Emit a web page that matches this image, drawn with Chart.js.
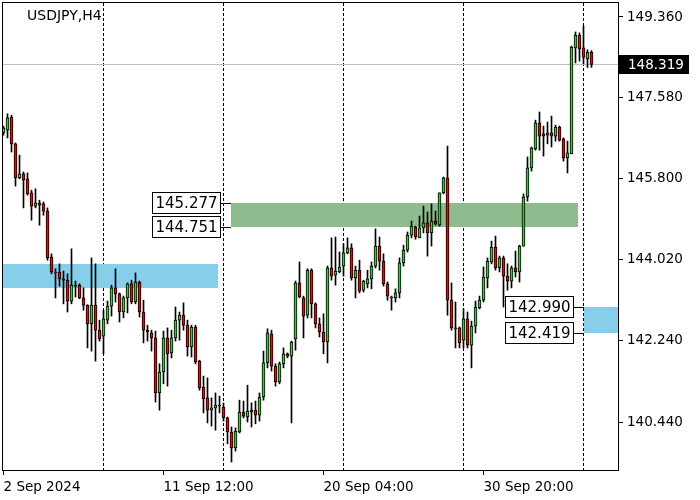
<!DOCTYPE html>
<html><head><meta charset="utf-8">
<script src="https://cdn.jsdelivr.net/npm/chart.js@4.4.1/dist/chart.umd.min.js"></script>
<style>html,body{margin:0;padding:0;background:#fff;}canvas{display:block}</style>
</head><body>
<canvas id="c" width="700" height="500"></canvas>
<script>
const symbolTitle = "USDJPY,H4";
const opens = [146.81,146.87,147.16,146.57,145.82,145.91,145.80,145.49,145.20,145.27,
145.25,145.09,144.08,143.75,143.75,143.60,143.57,143.11,143.46,143.46,
143.18,143.02,142.61,143.02,142.47,142.34,142.69,143.00,143.40,143.27,
142.87,143.18,143.49,143.09,143.53,142.87,142.47,142.41,142.30,141.09,
141.55,142.30,141.97,142.30,142.69,142.80,142.58,142.10,142.54,141.79,
141.22,140.98,140.71,140.76,140.82,140.78,140.54,140.23,139.88,140.23,
140.67,140.56,140.71,140.71,140.60,141.00,141.75,142.39,141.68,141.33,
141.73,141.95,141.90,142.28,143.51,143.18,142.80,143.79,143.05,142.61,
142.43,142.21,143.84,143.68,143.75,143.88,144.17,144.28,143.62,143.79,
143.35,143.49,143.60,143.88,144.32,143.99,143.49,143.20,143.18,143.29,
143.95,144.23,144.56,144.74,144.50,144.72,144.83,144.61,144.87,144.78,
145.49,145.82,143.13,142.52,142.52,142.25,142.72,142.14,142.56,142.96,
143.13,143.62,143.97,144.30,143.84,144.06,143.66,143.55,143.84,143.75,
144.32,145.40,146.04,146.46,147.03,146.79,146.76,146.81,146.74,146.94,
146.68,146.26,146.35,148.68,148.96,148.68,148.44,148.58];
const highs = [146.96,147.23,147.20,146.59,146.32,145.95,145.93,145.55,145.58,145.33,
145.29,145.16,144.15,143.82,143.93,143.77,143.71,144.26,143.55,143.49,
143.40,143.03,144.06,143.93,142.69,142.91,143.11,143.46,143.82,143.29,
143.22,143.51,143.57,143.73,143.55,143.13,142.58,142.47,142.45,141.73,
142.45,142.52,142.47,142.98,142.87,143.07,142.69,142.58,142.58,141.81,
141.46,141.42,140.98,141.09,141.02,140.87,140.56,140.34,140.32,140.93,
140.91,141.26,140.87,140.91,141.09,142.01,142.50,142.47,141.73,141.77,
142.08,141.97,142.23,143.55,143.97,143.22,143.82,143.82,143.07,142.74,
142.83,143.88,144.50,144.52,144.19,144.37,144.50,144.37,143.88,144.01,
143.57,143.79,143.97,144.70,144.52,144.15,143.53,143.22,143.38,144.06,
144.34,144.63,144.87,144.76,144.98,145.20,145.07,145.25,145.09,145.49,
145.84,146.52,143.51,143.09,142.54,142.94,142.87,142.67,143.11,143.22,
143.86,144.06,144.43,144.54,144.10,144.10,143.93,143.88,144.21,144.34,
145.47,146.28,146.50,147.09,147.27,146.96,147.05,147.18,146.98,146.96,
146.70,146.63,148.72,149.03,149.01,149.16,148.64,148.62];
const lows = [146.76,146.70,146.39,145.64,145.80,145.16,145.44,144.89,145.16,144.78,
145.00,144.01,143.71,143.18,143.44,143.05,142.87,143.05,143.20,143.16,
142.91,142.08,142.01,141.79,142.23,141.95,142.61,142.78,143.09,142.65,
142.74,142.85,143.05,143.05,142.76,142.19,142.23,142.01,140.89,140.71,
141.29,141.24,141.86,142.23,142.25,142.47,141.90,141.88,141.73,141.15,
140.65,140.43,140.36,140.27,140.65,140.47,139.97,139.57,139.81,140.21,
140.54,140.45,140.34,140.41,140.47,140.93,141.64,141.57,141.24,141.29,
141.64,141.86,140.43,142.03,143.18,142.30,142.74,142.74,142.52,142.32,
141.95,141.75,143.57,143.46,143.73,143.66,144.15,143.57,143.18,143.29,
143.31,143.40,143.38,143.84,143.79,143.44,143.13,142.91,143.09,143.18,
143.88,144.19,144.50,144.47,144.50,144.61,144.10,144.32,144.78,144.76,
145.47,142.80,142.47,142.08,142.08,142.08,142.08,141.64,142.41,142.94,
143.09,143.40,143.93,143.79,143.75,142.98,143.35,143.40,143.64,143.53,
144.32,145.31,145.97,146.43,146.43,146.30,146.57,146.50,146.63,146.63,
146.19,145.93,146.35,148.35,148.39,148.33,148.25,148.25];
const closes = [146.92,147.14,146.57,145.82,145.91,145.77,145.47,145.20,145.27,145.22,
145.09,144.06,143.75,143.73,143.60,143.57,143.11,143.46,143.44,143.18,
143.02,142.61,143.02,142.47,142.28,142.72,143.00,143.40,143.27,142.87,
143.18,143.49,143.09,143.53,142.87,142.47,142.43,142.30,141.09,141.55,
142.30,141.95,142.30,142.69,142.80,142.58,142.10,142.54,141.77,141.20,
140.96,140.71,140.76,140.82,140.80,140.54,140.23,139.88,140.25,140.67,
140.58,140.69,140.67,140.60,141.00,141.75,142.41,141.68,141.33,141.73,
141.95,141.90,142.21,143.51,143.20,142.78,143.79,143.05,142.61,142.43,
142.21,143.84,143.66,143.77,143.86,144.17,144.28,143.62,143.79,143.33,
143.55,143.60,143.88,144.32,143.99,143.49,143.22,143.18,143.29,143.95,
144.23,144.56,144.76,144.52,144.72,144.83,144.61,144.87,144.81,145.49,
145.82,143.13,142.52,142.50,142.19,142.72,142.14,142.56,142.98,143.13,
143.64,143.99,144.30,143.84,144.06,143.66,143.55,143.84,143.75,144.32,
145.40,146.04,146.48,147.03,146.74,146.74,146.81,146.74,146.94,146.65,
146.26,146.37,148.70,148.96,148.66,148.47,148.58,148.319];

const xTickBars = [0, 40, 80, 120];
const xTickLabels = ["2 Sep 2024", "11 Sep 12:00", "20 Sep 04:00", "30 Sep 20:00"];
const separatorBars = [25, 55, 85, 115, 145];
const yTicks = [149.360, 147.580, 145.800, 144.020, 142.240, 140.440];
const currentPrice = 148.319;
const greenZonePrices = [145.277, 144.751];
const blueZoneLeftPrices = [143.93, 143.40];
const blueZoneRightPrices = [142.990, 142.419];

const X_MIN = -0.125, X_MAX = 153.875;
const Y_MIN = 139.372, Y_MAX = 149.668;
const FONT = '"DejaVu Sans", sans-serif';
const GREEN = '#32cd32', RED = '#ff0000';

const zones = [
  {from: 56.9, to: 143.6, prices: greenZonePrices, color: '#8fbc8f', labels: true},
  {from: X_MIN, to: 53.6, prices: blueZoneLeftPrices, color: '#87ceeb', labels: false},
  {from: 145.1, to: X_MAX, prices: blueZoneRightPrices, color: '#87ceeb', labels: true}
];

function noPad(s) { s.paddingTop = 0; s.paddingBottom = 0; s.paddingLeft = 0; s.paddingRight = 0; }

const overlay = {
  id: 'overlay',
  beforeDatasetsDraw(chart) {
    const {ctx, chartArea: a, scales: {x, y}} = chart;
    ctx.save();
    ctx.beginPath(); ctx.rect(a.left, a.top, a.right - a.left, a.bottom - a.top); ctx.clip();
    zones.forEach(z => {
      const x1 = Math.round(x.getPixelForValue(z.from)), x2 = Math.round(x.getPixelForValue(z.to));
      const y1 = Math.round(y.getPixelForValue(z.prices[0])), y2 = Math.round(y.getPixelForValue(z.prices[1]));
      ctx.fillStyle = z.color;
      ctx.fillRect(x1, y1, x2 - x1, y2 - y1);
    });
    const py = Math.round(y.getPixelForValue(currentPrice)) + 0.5;
    ctx.strokeStyle = '#c0c0c0'; ctx.lineWidth = 1;
    ctx.beginPath(); ctx.moveTo(a.left, py); ctx.lineTo(a.right, py); ctx.stroke();
    ctx.restore();
  },
  afterDraw(chart) {
    const {ctx, chartArea: a, scales: {x, y}} = chart;
    ctx.save();
    ctx.strokeStyle = '#000'; ctx.lineWidth = 1;
    ctx.strokeRect(a.left - 0.5, a.top - 0.5, a.right - a.left, a.bottom - a.top);
    ctx.fillStyle = '#000'; ctx.font = '14px ' + FONT;
    ctx.textBaseline = 'middle'; ctx.textAlign = 'left';
    ctx.fillText(symbolTitle, 27, 16);
    ctx.font = '15px ' + FONT;
    zones.filter(z => z.labels).forEach(z => {
      const zx = Math.round(x.getPixelForValue(z.from));
      const right = zx - 10;
      let top = null;
      z.prices.forEach((p, k) => {
        const txt = p.toFixed(3);
        const w = Math.round(ctx.measureText(txt).width) + 7;
        const h = 22;
        const cy = Math.round(y.getPixelForValue(p));
        let t = k === 0 ? cy - h / 2 : Math.max(top, cy - h / 2);
        t = Math.round(t);
        const left = right - w;
        ctx.fillStyle = '#fff';
        ctx.fillRect(left, t, w, h);
        ctx.strokeStyle = '#000';
        ctx.strokeRect(left + 0.5, t + 0.5, w - 1, h - 1);
        const ly = t + Math.floor(h / 2) + 0.5;
        ctx.beginPath(); ctx.moveTo(right, ly); ctx.lineTo(zx, ly); ctx.stroke();
        ctx.fillStyle = '#000'; ctx.textAlign = 'center';
        ctx.fillText(txt, left + w / 2, t + h / 2 + 1);
        top = t + h;
      });
    });
    const py = Math.round(y.getPixelForValue(currentPrice));
    ctx.fillStyle = '#000';
    ctx.fillRect(a.right, py - 9, 70, 19);
    ctx.fillStyle = '#fff'; ctx.font = '13.5px ' + FONT; ctx.textAlign = 'left';
    ctx.fillText(currentPrice.toFixed(3), a.right + 9, py + 1);
    ctx.restore();
  }
};

const wickData = lows.map((l, i) => ({x: i, y: [l, highs[i]]}));
const bodyData = opens.map((o, i) => ({x: i, y: [o, closes[i]]}));
const bodyColors = opens.map((o, i) => closes[i] >= o ? GREEN : RED);

new Chart(document.getElementById('c'), {
  type: 'bar',
  data: {
    datasets: [
      {data: wickData, backgroundColor: '#000', borderWidth: 0, grouped: false,
       barPercentage: 1, categoryPercentage: 1, maxBarThickness: 1, order: 2},
      {data: bodyData, backgroundColor: bodyColors, borderColor: '#000', borderWidth: 1,
       borderSkipped: false, grouped: false, barPercentage: 1, categoryPercentage: 1,
       maxBarThickness: 3, order: 1}
    ]
  },
  options: {
    responsive: false, animation: false, devicePixelRatio: 1,
    layout: {padding: {left: 3, top: 3, right: 0, bottom: 0}},
    plugins: {legend: {display: false}, tooltip: {enabled: false}, title: {display: false}},
    scales: {
      x: {
        type: 'linear', position: 'bottom', min: X_MIN, max: X_MAX, offset: false,
        afterBuildTicks: s => { s.ticks = xTickBars.map(v => ({value: v})); },
        afterFit: s => { s.height = 29; noPad(s); },
        ticks: {autoSkip: false, maxRotation: 0, align: 'start', padding: 4, color: '#000',
                font: {family: FONT, size: 13.5},
                callback: v => xTickLabels[xTickBars.indexOf(v)] ?? ''},
        grid: {drawOnChartArea: false, tickLength: 4, color: '#000', offset: false},
        border: {display: false}
      },
      x2: {
        type: 'linear', position: 'top', min: X_MIN, max: X_MAX, offset: false,
        afterBuildTicks: s => { s.ticks = separatorBars.map(v => ({value: v})); },
        afterFit: s => { s.height = 0; noPad(s); },
        ticks: {display: false},
        grid: {drawOnChartArea: true, drawTicks: false, color: '#000', lineWidth: 1, offset: false},
        border: {display: false, dash: [3, 2]}
      },
      y: {
        type: 'linear', position: 'right', min: Y_MIN, max: Y_MAX,
        afterBuildTicks: s => { s.ticks = yTicks.map(v => ({value: v})); },
        afterFit: s => { s.width = 81; noPad(s); },
        ticks: {autoSkip: false, padding: 4, color: '#000', font: {family: FONT, size: 13.5},
                callback: v => Number(v).toFixed(3)},
        grid: {drawOnChartArea: false, tickLength: 4, color: '#000'},
        border: {display: false}
      }
    }
  },
  plugins: [overlay]
});
</script>
</body></html>
